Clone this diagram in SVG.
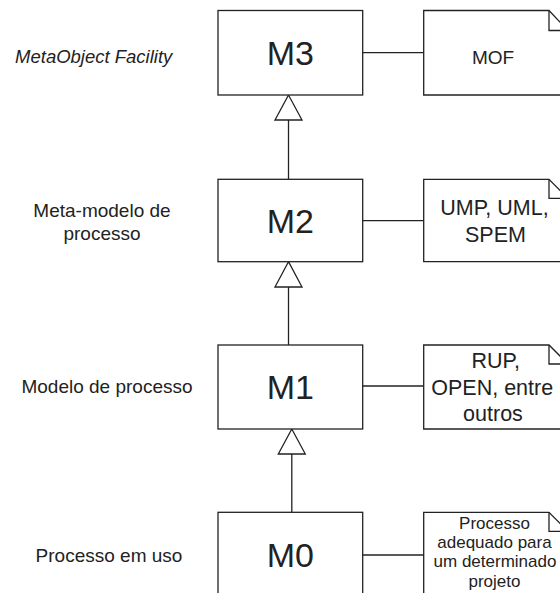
<svg xmlns="http://www.w3.org/2000/svg" width="560" height="593" viewBox="0 0 560 593">
<style>
.box{fill:#fff;stroke:#222;stroke-width:1.3}
.ln{fill:none;stroke:#222;stroke-width:1.3}
.tri{fill:#fff;stroke:#222;stroke-width:1.3}
text{font-family:"Liberation Sans",Arial,sans-serif;fill:#222;text-anchor:middle}
.big{font-size:34px}
.note{font-size:21.5px}
.small{font-size:17px}
.lbl{font-size:19px}
</style>
<rect width="560" height="593" fill="#fff"/>
<g id="connectors">
<line class="ln" x1="362.7" y1="52.7" x2="423.7" y2="52.7"/>
<line class="ln" x1="362.7" y1="220.7" x2="423.7" y2="220.7"/>
<line class="ln" x1="362.7" y1="386" x2="423.7" y2="386"/>
<line class="ln" x1="362.7" y1="555" x2="423.7" y2="555"/>
<line class="ln" x1="288.5" y1="120" x2="288.5" y2="179.3"/>
<polygon class="tri" points="288.5,95 275,120 302,120"/>
<line class="ln" x1="288.5" y1="287" x2="288.5" y2="345"/>
<polygon class="tri" points="288.5,261.7 275,287 302,287"/>
<line class="ln" x1="291.8" y1="454" x2="291.8" y2="512.3"/>
<polygon class="tri" points="291.8,429 278.3,454 305.3,454"/>
</g>
<g id="m3">
<rect class="box" x="218" y="10.5" width="144.7" height="84.5"/>
<text class="big" x="290.3" y="65">M3</text>
</g>
<g id="m2">
<rect class="box" x="218" y="179.3" width="144.7" height="82.4"/>
<text class="big" x="290.3" y="233">M2</text>
</g>
<g id="m1">
<rect class="box" x="218" y="345" width="144.7" height="84"/>
<text class="big" x="290.3" y="399">M1</text>
</g>
<g id="m0">
<rect class="box" x="218" y="512.3" width="144.7" height="84"/>
<text class="big" x="290.3" y="566.7">M0</text>
</g>
<g id="note-mof">
<path class="box" d="M423.7,10.5 H549 L568,30.5 V95 H423.7 Z"/>
<path class="ln" d="M549,10.5 V30.5 H568"/>
<text class="note" x="493" y="64" style="font-size:19px">MOF</text>
</g>
<g id="note-uml">
<path class="box" d="M423.7,179.3 H549 L568,198.3 V261.7 H423.7 Z"/>
<path class="ln" d="M549,179.3 V198.3 H568"/>
<text class="note" x="494.5" y="215">UMP, UML,</text>
<text class="note" x="495.5" y="241.7">SPEM</text>
</g>
<g id="note-rup">
<path class="box" d="M423.7,345 H549 L568,364 V429 H423.7 Z"/>
<path class="ln" d="M549,345 V364 H568"/>
<text class="note" x="495.8" y="368.3">RUP,</text>
<text class="note" x="492.2" y="395">OPEN, entre</text>
<text class="note" x="493" y="421">outros</text>
</g>
<g id="note-proc">
<path class="box" d="M423.7,512.3 H549 L568,531.3 V596 H423.7 Z"/>
<path class="ln" d="M549,512.3 V531.3 H568"/>
<text class="small" x="494.5" y="529">Processo</text>
<text class="small" x="494.5" y="548.3">adequado para</text>
<text class="small" x="495" y="567.3">um determinado</text>
<text class="small" x="494.5" y="586.7">projeto</text>
</g>
<g id="labels">
<text class="lbl" x="93.7" y="63.3" style="font-style:italic;font-size:18.5px">MetaObject Facility</text>
<text class="lbl" x="102" y="217.3">Meta-modelo de</text>
<text class="lbl" x="102" y="240">processo</text>
<text class="lbl" x="107" y="393.3">Modelo de processo</text>
<text class="lbl" x="109" y="562.3">Processo em uso</text>
</g>
</svg>
